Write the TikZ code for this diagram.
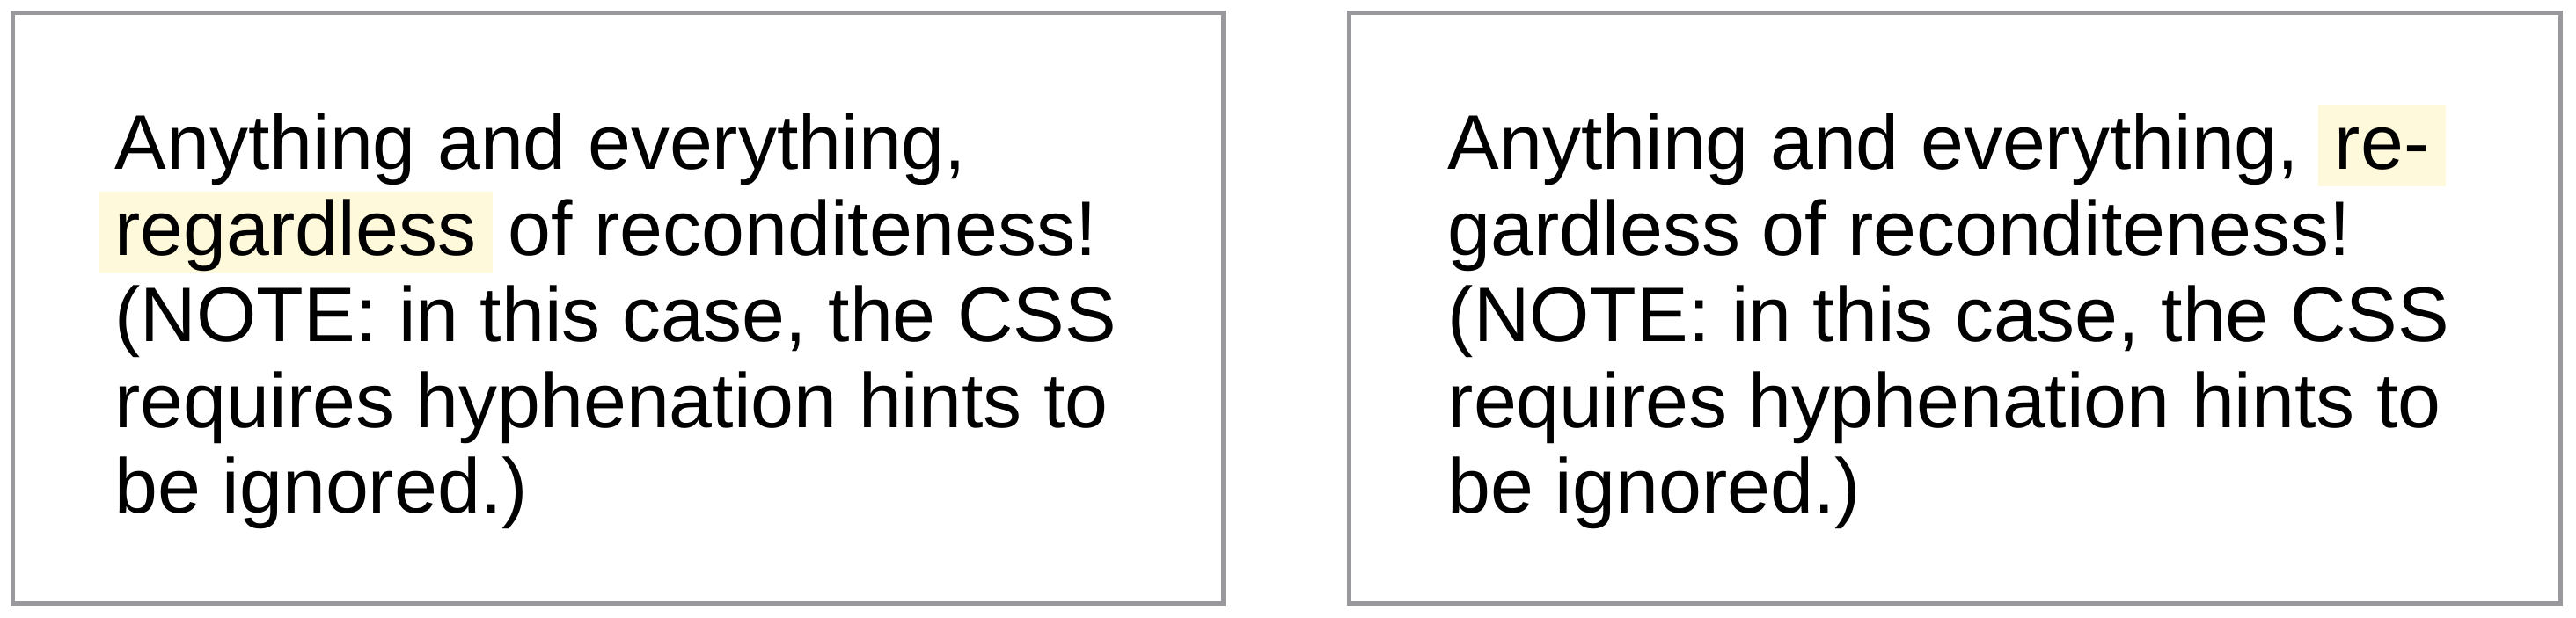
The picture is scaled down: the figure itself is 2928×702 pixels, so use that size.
\documentclass[tikz,border=0pt]{standalone}
\usepackage{fontspec}
\setmainfont{Liberation Sans}
\definecolor{frame}{RGB}{152,152,157}
\definecolor{hlite}{RGB}{255,249,219}
\begin{document}
\begin{tikzpicture}[x=0.01cm,y=-0.01cm,
  txt/.style={anchor=base west, inner sep=0pt, font=\fontsize{25}{30}\selectfont, text=black},
  hl/.style={txt, fill=hlite, inner xsep=0.19cm, inner ysep=0pt, text height=0.72cm, text depth=0.2cm},
  panel/.style={draw=frame, line width=0.05cm}]
\useasboundingbox (0,0) rectangle (2928,702);
% panels
\draw[panel] (14.5,14.5) rectangle (1390.5,686);
\draw[panel] (1533.5,14.5) rectangle (2910,686);
% left panel text
\node[txt] (la1) at (130,192) {Anything and everything,};
\node[hl] (la2h) at (111,290) {regardless};
\node[txt] (la2) at ([xshift=0.16cm]la2h.base east) {of reconditeness!};
\node[txt] (la3) at (130,388) {(NOTE: in this case, the CSS};
\node[txt] (la4) at (130,486) {requires hyphenation hints to};
\node[txt] (la5) at (130,583) {be ignored.)};
% right panel text
\node[txt] (ra1) at (1645,192) {Anything and everything,};
\node[hl] (ra1h) at ([xshift=0.2cm]ra1.base east) {re-};
\node[txt] (ra2) at (1645,290) {gardless of reconditeness!};
\node[txt] (ra3) at (1645,388) {(NOTE: in this case, the CSS};
\node[txt] (ra4) at (1645,486) {requires hyphenation hints to};
\node[txt] (ra5) at (1645,583) {be ignored.)};
\end{tikzpicture}
\end{document}
